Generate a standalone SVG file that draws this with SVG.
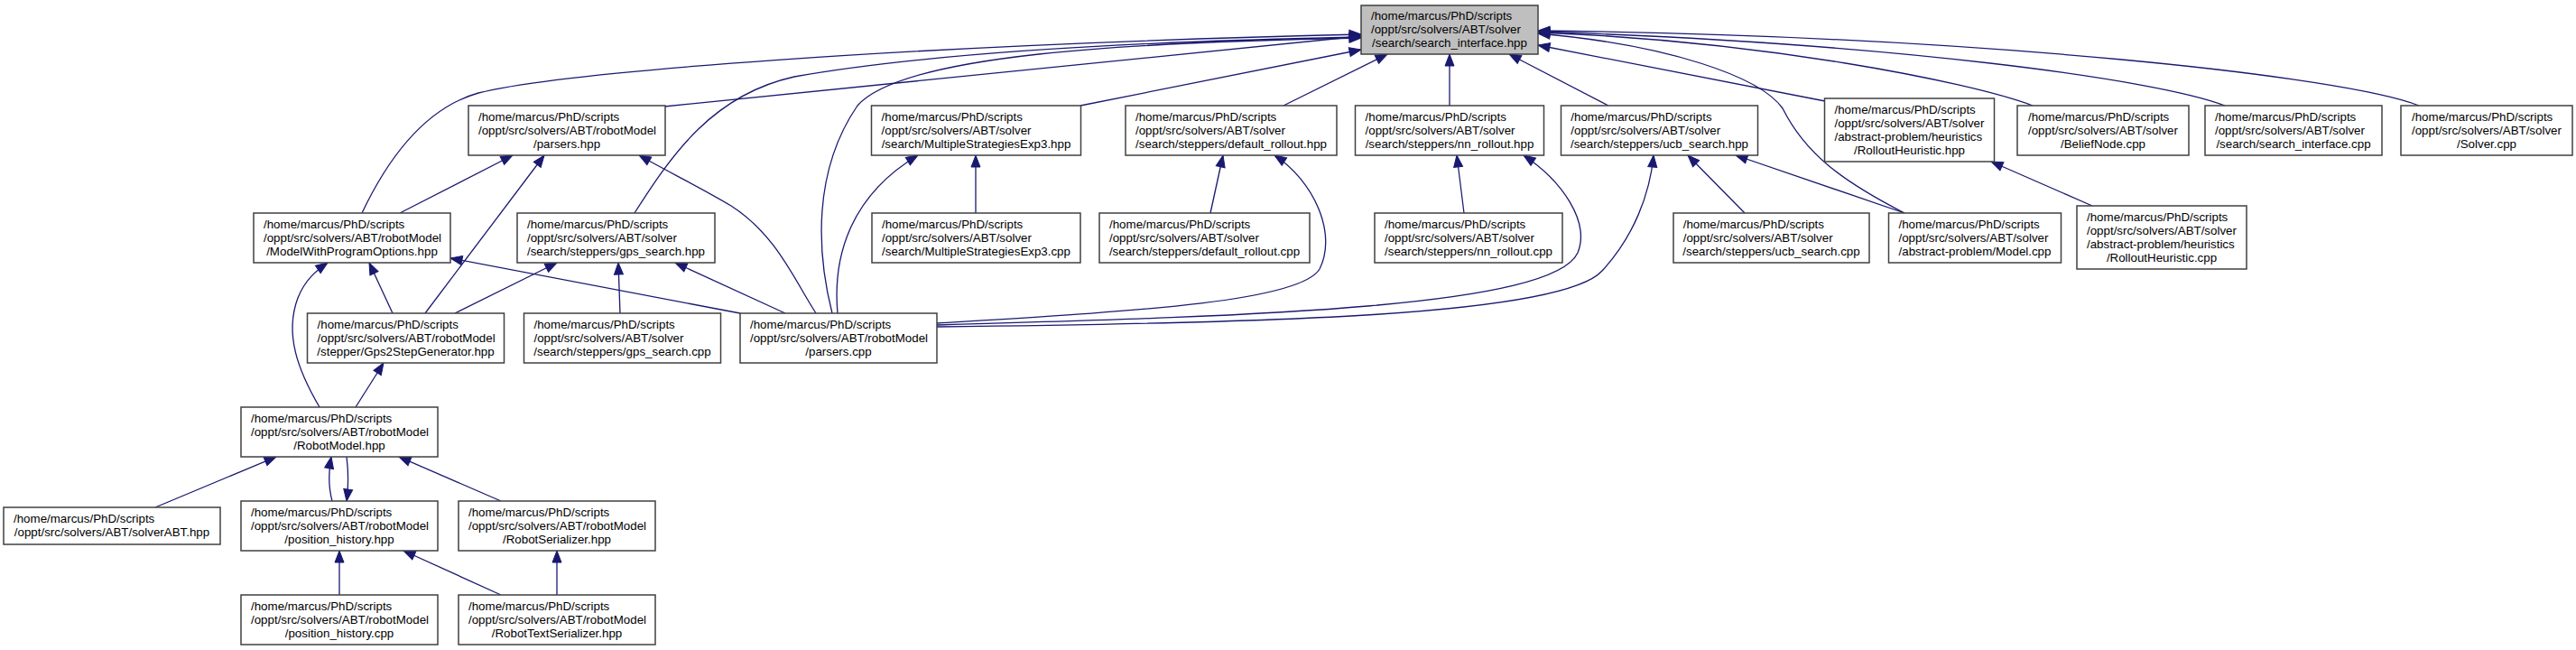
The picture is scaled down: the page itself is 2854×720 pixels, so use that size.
<svg xmlns="http://www.w3.org/2000/svg" width="2854" height="720" viewBox="0 0 2854 720">
<style>
.n rect{fill:#ffffff;stroke:#404040;stroke-width:1.5}
.root rect{fill:#bfbfbf}
text{font-family:"Liberation Sans",Arial,Helvetica,sans-serif;font-size:13.33px;fill:#000}
.c{text-anchor:middle}
#edges path{fill:none;stroke:#191970;stroke-width:1.3;marker-end:url(#arr)}
</style>
<defs>
<marker id="arr" markerUnits="userSpaceOnUse" markerWidth="14" markerHeight="11" refX="13" refY="5" orient="auto" overflow="visible">
<path d="M0,0 L13,5 L0,10 Z" fill="#191970" stroke="#191970" stroke-width="1"/>
</marker>
</defs>
<rect width="2854" height="720" fill="#ffffff"/>
<g id="edges">
<path d="M401,236 C430,175 470,120 530,103 C620,80 1000,50 1508,38"/>
<path d="M736,118 L1508,40"/>
<path d="M703,236 C745,170 790,105 880,85 C1050,55 1300,45 1508,41"/>
<path d="M922,347 C905,280 900,190 950,117 C1000,60 1250,47 1508,42"/>
<path d="M1197,117 L1508,55"/>
<path d="M1422,117 L1537,60"/>
<path d="M1606,117 L1606,60"/>
<path d="M1782,117 L1672,60"/>
<path d="M2022,112 L1704,50"/>
<path d="M2110,236 C2040,200 2000,170 1975,120 C1950,85 1850,50 1704,37"/>
<path d="M2252,117 C2180,90 1950,45 1704,36"/>
<path d="M2465,117 C2390,88 2100,48 1704,35"/>
<path d="M2680,117 C2600,85 2200,40 1704,34"/>
<path d="M443,236 L568,172"/>
<path d="M471,347 L603,172"/>
<path d="M904,347 C880,310 860,260 810,228 C780,210 740,190 708,172"/>
<path d="M1081,236 L1081,172"/>
<path d="M928,347 C922,280 945,215 1017,172"/>
<path d="M1341,236 L1355,172"/>
<path d="M1038,358 C1250,345 1440,335 1462,298 C1482,258 1455,200 1412,172"/>
<path d="M1622,236 L1614,172"/>
<path d="M1038,360 C1400,350 1720,340 1748,280 C1762,245 1730,200 1688,172"/>
<path d="M1933,236 L1870,172"/>
<path d="M2110,236 L1923,172"/>
<path d="M1038,362 C1400,358 1730,350 1775,300 C1810,262 1828,215 1832,172"/>
<path d="M2318,228 L2206,179"/>
<path d="M435,347 L409,291"/>
<path d="M354,451 C330,410 315,370 330,330 C338,310 350,300 363,291"/>
<path d="M820,347 L499,286"/>
<path d="M504,347 L617,291"/>
<path d="M687,347 L685,291"/>
<path d="M870,347 L748,291"/>
<path d="M394,451 L425,402"/>
<path d="M172,562 L306,506"/>
<path d="M368,555 C364,540 364,522 367,506"/>
<path d="M384,506 C386,522 386,540 384,555"/>
<path d="M555,555 L442,506"/>
<path d="M376,659 L376,610"/>
<path d="M555,659 L447,610"/>
<path d="M617,659 L617,610"/>
</g>
<g id="search_interface_hpp" class="n root"><rect x="1508" y="6" width="196" height="54"/><text><tspan x="1519" y="22">/home/marcus/PhD/scripts</tspan><tspan x="1519" y="37">/oppt/src/solvers/ABT/solver</tspan><tspan x="1606" y="52" class="c">/search/search_interface.hpp</tspan></text></g>
<g id="parsers_hpp" class="n"><rect x="519" y="117" width="218" height="55"/><text><tspan x="530" y="133.5">/home/marcus/PhD/scripts</tspan><tspan x="530" y="148.5">/oppt/src/solvers/ABT/robotModel</tspan><tspan x="628" y="163.5" class="c">/parsers.hpp</tspan></text></g>
<g id="MultipleStrategiesExp3_hpp" class="n"><rect x="965.5" y="117" width="232" height="55"/><text><tspan x="976.6" y="133.5">/home/marcus/PhD/scripts</tspan><tspan x="976.6" y="148.5">/oppt/src/solvers/ABT/solver</tspan><tspan x="1081.5" y="163.5" class="c">/search/MultipleStrategiesExp3.hpp</tspan></text></g>
<g id="default_rollout_hpp" class="n"><rect x="1247" y="117" width="234" height="55"/><text><tspan x="1258" y="133.5">/home/marcus/PhD/scripts</tspan><tspan x="1258" y="148.5">/oppt/src/solvers/ABT/solver</tspan><tspan x="1364" y="163.5" class="c">/search/steppers/default_rollout.hpp</tspan></text></g>
<g id="nn_rollout_hpp" class="n"><rect x="1501.5" y="117" width="209" height="55"/><text><tspan x="1512.6" y="133.5">/home/marcus/PhD/scripts</tspan><tspan x="1512.6" y="148.5">/oppt/src/solvers/ABT/solver</tspan><tspan x="1606" y="163.5" class="c">/search/steppers/nn_rollout.hpp</tspan></text></g>
<g id="ucb_search_hpp" class="n"><rect x="1729.5" y="117" width="218" height="55"/><text><tspan x="1740.3" y="133.5">/home/marcus/PhD/scripts</tspan><tspan x="1740.3" y="148.5">/oppt/src/solvers/ABT/solver</tspan><tspan x="1838.5" y="163.5" class="c">/search/steppers/ucb_search.hpp</tspan></text></g>
<g id="RolloutHeuristic_hpp" class="n"><rect x="2021.5" y="109" width="188" height="70"/><text><tspan x="2032.5" y="126">/home/marcus/PhD/scripts</tspan><tspan x="2032.5" y="141">/oppt/src/solvers/ABT/solver</tspan><tspan x="2032.5" y="156">/abstract-problem/heuristics</tspan><tspan x="2115.5" y="171" class="c">/RolloutHeuristic.hpp</tspan></text></g>
<g id="BeliefNode_cpp" class="n"><rect x="2235" y="117" width="190" height="55"/><text><tspan x="2247" y="133.5">/home/marcus/PhD/scripts</tspan><tspan x="2247" y="148.5">/oppt/src/solvers/ABT/solver</tspan><tspan x="2330" y="163.5" class="c">/BeliefNode.cpp</tspan></text></g>
<g id="search_interface_cpp" class="n"><rect x="2443" y="117" width="196" height="55"/><text><tspan x="2454" y="133.5">/home/marcus/PhD/scripts</tspan><tspan x="2454" y="148.5">/oppt/src/solvers/ABT/solver</tspan><tspan x="2541" y="163.5" class="c">/search/search_interface.cpp</tspan></text></g>
<g id="Solver_cpp" class="n"><rect x="2660" y="117" width="190" height="55"/><text><tspan x="2672" y="133.5">/home/marcus/PhD/scripts</tspan><tspan x="2672" y="148.5">/oppt/src/solvers/ABT/solver</tspan><tspan x="2755" y="163.5" class="c">/Solver.cpp</tspan></text></g>
<g id="ModelWithProgramOptions_hpp" class="n"><rect x="281" y="236" width="218" height="55"/><text><tspan x="292" y="252.5">/home/marcus/PhD/scripts</tspan><tspan x="292" y="267.5">/oppt/src/solvers/ABT/robotModel</tspan><tspan x="390" y="282.5" class="c">/ModelWithProgramOptions.hpp</tspan></text></g>
<g id="gps_search_hpp" class="n"><rect x="573" y="236" width="219" height="55"/><text><tspan x="584" y="252.5">/home/marcus/PhD/scripts</tspan><tspan x="584" y="267.5">/oppt/src/solvers/ABT/solver</tspan><tspan x="682.5" y="282.5" class="c">/search/steppers/gps_search.hpp</tspan></text></g>
<g id="MultipleStrategiesExp3_cpp" class="n"><rect x="966" y="236" width="231" height="55"/><text><tspan x="977" y="252.5">/home/marcus/PhD/scripts</tspan><tspan x="977" y="267.5">/oppt/src/solvers/ABT/solver</tspan><tspan x="1081.5" y="282.5" class="c">/search/MultipleStrategiesExp3.cpp</tspan></text></g>
<g id="default_rollout_cpp" class="n"><rect x="1218" y="236" width="233" height="55"/><text><tspan x="1229" y="252.5">/home/marcus/PhD/scripts</tspan><tspan x="1229" y="267.5">/oppt/src/solvers/ABT/solver</tspan><tspan x="1334.5" y="282.5" class="c">/search/steppers/default_rollout.cpp</tspan></text></g>
<g id="nn_rollout_cpp" class="n"><rect x="1523" y="236" width="208" height="55"/><text><tspan x="1534" y="252.5">/home/marcus/PhD/scripts</tspan><tspan x="1534" y="267.5">/oppt/src/solvers/ABT/solver</tspan><tspan x="1627" y="282.5" class="c">/search/steppers/nn_rollout.cpp</tspan></text></g>
<g id="ucb_search_cpp" class="n"><rect x="1854" y="236" width="217" height="55"/><text><tspan x="1864.7" y="252.5">/home/marcus/PhD/scripts</tspan><tspan x="1864.7" y="267.5">/oppt/src/solvers/ABT/solver</tspan><tspan x="1962.5" y="282.5" class="c">/search/steppers/ucb_search.cpp</tspan></text></g>
<g id="Model_cpp" class="n"><rect x="2092.5" y="236" width="191" height="55"/><text><tspan x="2103.5" y="252.5">/home/marcus/PhD/scripts</tspan><tspan x="2103.5" y="267.5">/oppt/src/solvers/ABT/solver</tspan><tspan x="2188" y="282.5" class="c">/abstract-problem/Model.cpp</tspan></text></g>
<g id="RolloutHeuristic_cpp" class="n"><rect x="2301" y="228" width="188" height="70"/><text><tspan x="2312" y="245">/home/marcus/PhD/scripts</tspan><tspan x="2312" y="260">/oppt/src/solvers/ABT/solver</tspan><tspan x="2312" y="275">/abstract-problem/heuristics</tspan><tspan x="2395" y="290" class="c">/RolloutHeuristic.cpp</tspan></text></g>
<g id="Gps2StepGenerator_hpp" class="n"><rect x="340.5" y="347" width="218" height="55"/><text><tspan x="351.6" y="363.5">/home/marcus/PhD/scripts</tspan><tspan x="351.6" y="378.5">/oppt/src/solvers/ABT/robotModel</tspan><tspan x="449.5" y="393.5" class="c">/stepper/Gps2StepGenerator.hpp</tspan></text></g>
<g id="gps_search_cpp" class="n"><rect x="580.5" y="347" width="218" height="55"/><text><tspan x="591.5" y="363.5">/home/marcus/PhD/scripts</tspan><tspan x="591.5" y="378.5">/oppt/src/solvers/ABT/solver</tspan><tspan x="689.5" y="393.5" class="c">/search/steppers/gps_search.cpp</tspan></text></g>
<g id="parsers_cpp" class="n"><rect x="820" y="347" width="218" height="55"/><text><tspan x="831" y="363.5">/home/marcus/PhD/scripts</tspan><tspan x="831" y="378.5">/oppt/src/solvers/ABT/robotModel</tspan><tspan x="929" y="393.5" class="c">/parsers.cpp</tspan></text></g>
<g id="RobotModel_hpp" class="n"><rect x="267" y="451" width="218" height="55"/><text><tspan x="278" y="467.5">/home/marcus/PhD/scripts</tspan><tspan x="278" y="482.5">/oppt/src/solvers/ABT/robotModel</tspan><tspan x="376" y="497.5" class="c">/RobotModel.hpp</tspan></text></g>
<g id="solverABT_hpp" class="n"><rect x="4" y="562" width="240" height="41"/><text><tspan x="15" y="579">/home/marcus/PhD/scripts</tspan><tspan x="124" y="594" class="c">/oppt/src/solvers/ABT/solverABT.hpp</tspan></text></g>
<g id="position_history_hpp" class="n"><rect x="267" y="555" width="218" height="55"/><text><tspan x="278" y="571.5">/home/marcus/PhD/scripts</tspan><tspan x="278" y="586.5">/oppt/src/solvers/ABT/robotModel</tspan><tspan x="376" y="601.5" class="c">/position_history.hpp</tspan></text></g>
<g id="RobotSerializer_hpp" class="n"><rect x="508" y="555" width="218" height="55"/><text><tspan x="519" y="571.5">/home/marcus/PhD/scripts</tspan><tspan x="519" y="586.5">/oppt/src/solvers/ABT/robotModel</tspan><tspan x="617" y="601.5" class="c">/RobotSerializer.hpp</tspan></text></g>
<g id="position_history_cpp" class="n"><rect x="267" y="659" width="218" height="55"/><text><tspan x="278" y="675.5">/home/marcus/PhD/scripts</tspan><tspan x="278" y="690.5">/oppt/src/solvers/ABT/robotModel</tspan><tspan x="376" y="705.5" class="c">/position_history.cpp</tspan></text></g>
<g id="RobotTextSerializer_hpp" class="n"><rect x="508" y="659" width="218" height="55"/><text><tspan x="519" y="675.5">/home/marcus/PhD/scripts</tspan><tspan x="519" y="690.5">/oppt/src/solvers/ABT/robotModel</tspan><tspan x="617" y="705.5" class="c">/RobotTextSerializer.hpp</tspan></text></g>
</svg>
